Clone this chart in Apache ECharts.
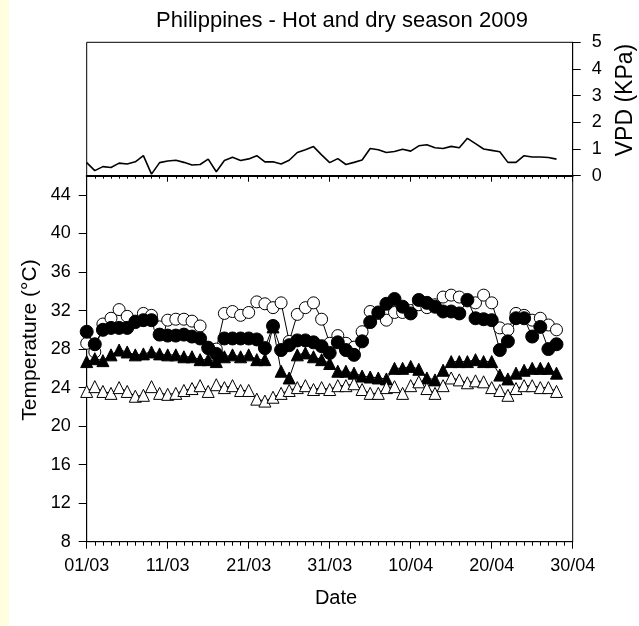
<!DOCTYPE html>
<html><head><meta charset="utf-8">
<script src="https://cdn.jsdelivr.net/npm/echarts@6/dist/echarts.min.js"></script>
<style>html,body{margin:0;padding:0;background:#fff}#c{width:639px;height:626px}</style>
</head><body><div id="c"></div>
<script>
// Day index 0 = 01/03/2009
const tickLabels = ['01/03','11/03','21/03','31/03','10/04','20/04','30/04'];
const vpd = [0.49,0.19,0.34,0.31,0.47,0.44,0.52,0.75,0.06,0.49,0.55,0.58,0.50,0.40,0.42,0.62,0.15,0.57,0.69,0.57,
  0.63,0.75,0.52,0.52,0.44,0.58,0.87,0.97,1.09,0.78,0.49,0.64,0.42,0.50,0.59,1.02,0.97,0.87,0.91,0.99,
  0.92,1.12,1.16,1.05,1.02,1.10,1.05,1.40,1.20,1.00,0.95,0.90,0.50,0.50,0.75,0.70,0.70,0.68,0.62];
const openCircles = [28.6,27.7,30.6,31.2,32.1,31.4,30.9,31.7,31.5,30.3,31.0,31.1,31.1,30.9,30.4,28.2,28.0,31.7,31.9,31.5,
  31.8,32.9,32.7,32.3,32.8,28.8,31.6,32.3,32.8,31.1,28.6,29.4,28.6,28.2,29.8,31.9,31.7,31.0,31.8,31.8,
  32.0,32.6,32.3,32.6,33.4,33.6,33.4,33.0,32.8,33.6,32.8,30.2,30.0,31.7,31.5,31.0,31.2,30.5,30.0];
const filledCircles = [29.8,28.5,30.0,30.2,30.2,30.2,30.8,31.0,31.0,29.5,29.4,29.4,29.5,29.3,29.1,28.1,27.5,29.1,29.1,29.1,
  29.1,29.0,28.1,30.4,27.9,28.4,28.9,28.9,28.7,28.3,27.6,28.7,27.9,27.4,28.8,30.8,31.8,32.7,33.2,32.4,
  31.7,33.1,32.8,32.4,31.9,31.9,31.7,33.1,31.2,31.1,31.0,27.9,28.8,31.2,31.2,29.3,30.3,28.0,28.5];
const filledTriangles = [26.7,27.0,26.8,27.4,27.9,27.7,27.4,27.5,27.7,27.5,27.4,27.4,27.2,27.2,26.9,26.9,26.7,27.2,27.4,27.2,
  27.4,26.9,26.9,30.3,25.7,25.0,27.4,27.6,27.2,26.9,26.5,25.7,25.7,25.5,25.2,25.1,25.0,24.9,26.0,26.0,
  26.2,25.9,25.0,24.8,25.8,26.7,26.7,26.7,26.9,26.7,26.7,25.3,24.9,25.5,25.8,26.0,26.0,26.0,25.5];
const openTriangles = [23.6,24.1,23.6,23.4,24.0,23.6,23.1,23.2,24.1,23.4,23.3,23.4,23.7,23.9,24.2,23.6,24.3,24.0,24.2,23.7,
  23.7,22.8,22.6,23.0,23.4,23.7,24.0,24.2,23.8,24.0,23.8,24.2,24.2,24.4,23.8,23.4,23.4,24.0,24.1,23.4,
  24.2,24.6,23.9,23.4,24.2,25.0,24.8,24.5,24.7,24.6,24.0,23.7,23.2,23.9,24.2,24.2,24.0,24.0,23.6];

const FONT = "'Liberation Sans', Arial, sans-serif";
const pairs = arr => arr.map((v, i) => [i, v]);
const chart = echarts.init(document.getElementById('c'), null, {renderer: 'canvas'});
const line = w => ({show: true, onZero: false, lineStyle: {color: '#000', width: w}});
function tempSeries(data, filled, symbol, size) {
  return {
    type: 'line', xAxisIndex: 1, yAxisIndex: 1, data: pairs(data),
    symbol: symbol, symbolSize: size, showAllSymbol: true,
    lineStyle: {color: '#000', width: 1},
    itemStyle: {color: filled ? '#000' : '#fff', borderColor: '#000', borderWidth: 1}
  };
}
chart.setOption({
  backgroundColor: '#fff',
  animation: false,
  title: {text: 'Philippines - Hot and dry season 2009', left: 337, textAlign: 'center', top: 5,
    textStyle: {fontSize: 22, fontWeight: 'normal', color: '#000', fontFamily: FONT}},
  grid: [
    {left: 86.7, right: 66.3, top: 42.3, height: 133.4, show: true, borderColor: '#000', borderWidth: 1, backgroundColor: 'transparent'},
    {left: 86.7, right: 66.3, top: 175.7, height: 366, show: true, borderColor: '#000', borderWidth: 1, backgroundColor: 'transparent'}
  ],
  xAxis: [
    {gridIndex: 0, type: 'value', min: 0, max: 60, interval: 10, splitLine: {show: false},
      axisLine: line(2),
      axisTick: {show: true, length: 6, lineStyle: {color: '#000'}},
      minorTick: {show: true, splitNumber: 10, length: 3, lineStyle: {color: '#000'}},
      axisLabel: {show: false}},
    {gridIndex: 1, type: 'value', min: 0, max: 60, interval: 10, splitLine: {show: false},
      axisLine: line(1),
      axisTick: {show: true, length: 7, lineStyle: {color: '#000'}},
      minorTick: {show: true, splitNumber: 10, length: 4, lineStyle: {color: '#000'}},
      axisLabel: {color: '#000', fontSize: 18, fontFamily: FONT, margin: 15,
        formatter: v => tickLabels[Math.round(v / 10)]}}
  ],
  yAxis: [
    {gridIndex: 0, type: 'value', position: 'right', min: 0, max: 5, interval: 1, splitLine: {show: false},
      axisLine: line(1),
      axisTick: {show: true, length: 8, lineStyle: {color: '#000'}},
      axisLabel: {color: '#000', fontSize: 18, fontFamily: FONT, margin: 19}},
    {gridIndex: 1, type: 'value', min: 8, max: 46, interval: 4, splitLine: {show: false},
      axisLine: line(1),
      axisTick: {show: true, length: 8, lineStyle: {color: '#000'}},
      axisLabel: {color: '#000', fontSize: 18, fontFamily: FONT, margin: 16, showMaxLabel: false}}
  ],
  graphic: [
    {type: 'rect', left: 0, top: 0, shape: {width: 9, height: 626}, style: {fill: '#FFFFE0'}, z: 0},
    {type: 'text', x: 30, y: 340, rotation: Math.PI / 2,
      style: {text: 'Temperature (°C)', font: '21px ' + FONT, fill: '#000', align: 'center', verticalAlign: 'middle'}},
    {type: 'text', x: 626, y: 100, rotation: Math.PI / 2,
      style: {text: 'VPD (KPa)', font: '23px ' + FONT, fill: '#000', align: 'center', verticalAlign: 'middle'}},
    {type: 'text', x: 336, y: 598,
      style: {text: 'Date', font: '20px ' + FONT, fill: '#000', align: 'center', verticalAlign: 'middle'}}
  ],
  series: [
    {type: 'line', xAxisIndex: 0, yAxisIndex: 0, data: pairs(vpd), symbol: 'none',
      lineStyle: {color: '#000', width: 1.6}},
    tempSeries(openCircles, false, 'circle', 12),
    tempSeries(filledTriangles, true, 'triangle', 12),
    tempSeries(filledCircles, true, 'circle', 13),
    tempSeries(openTriangles, false, 'triangle', 12)
  ]
});
</script></body></html>
